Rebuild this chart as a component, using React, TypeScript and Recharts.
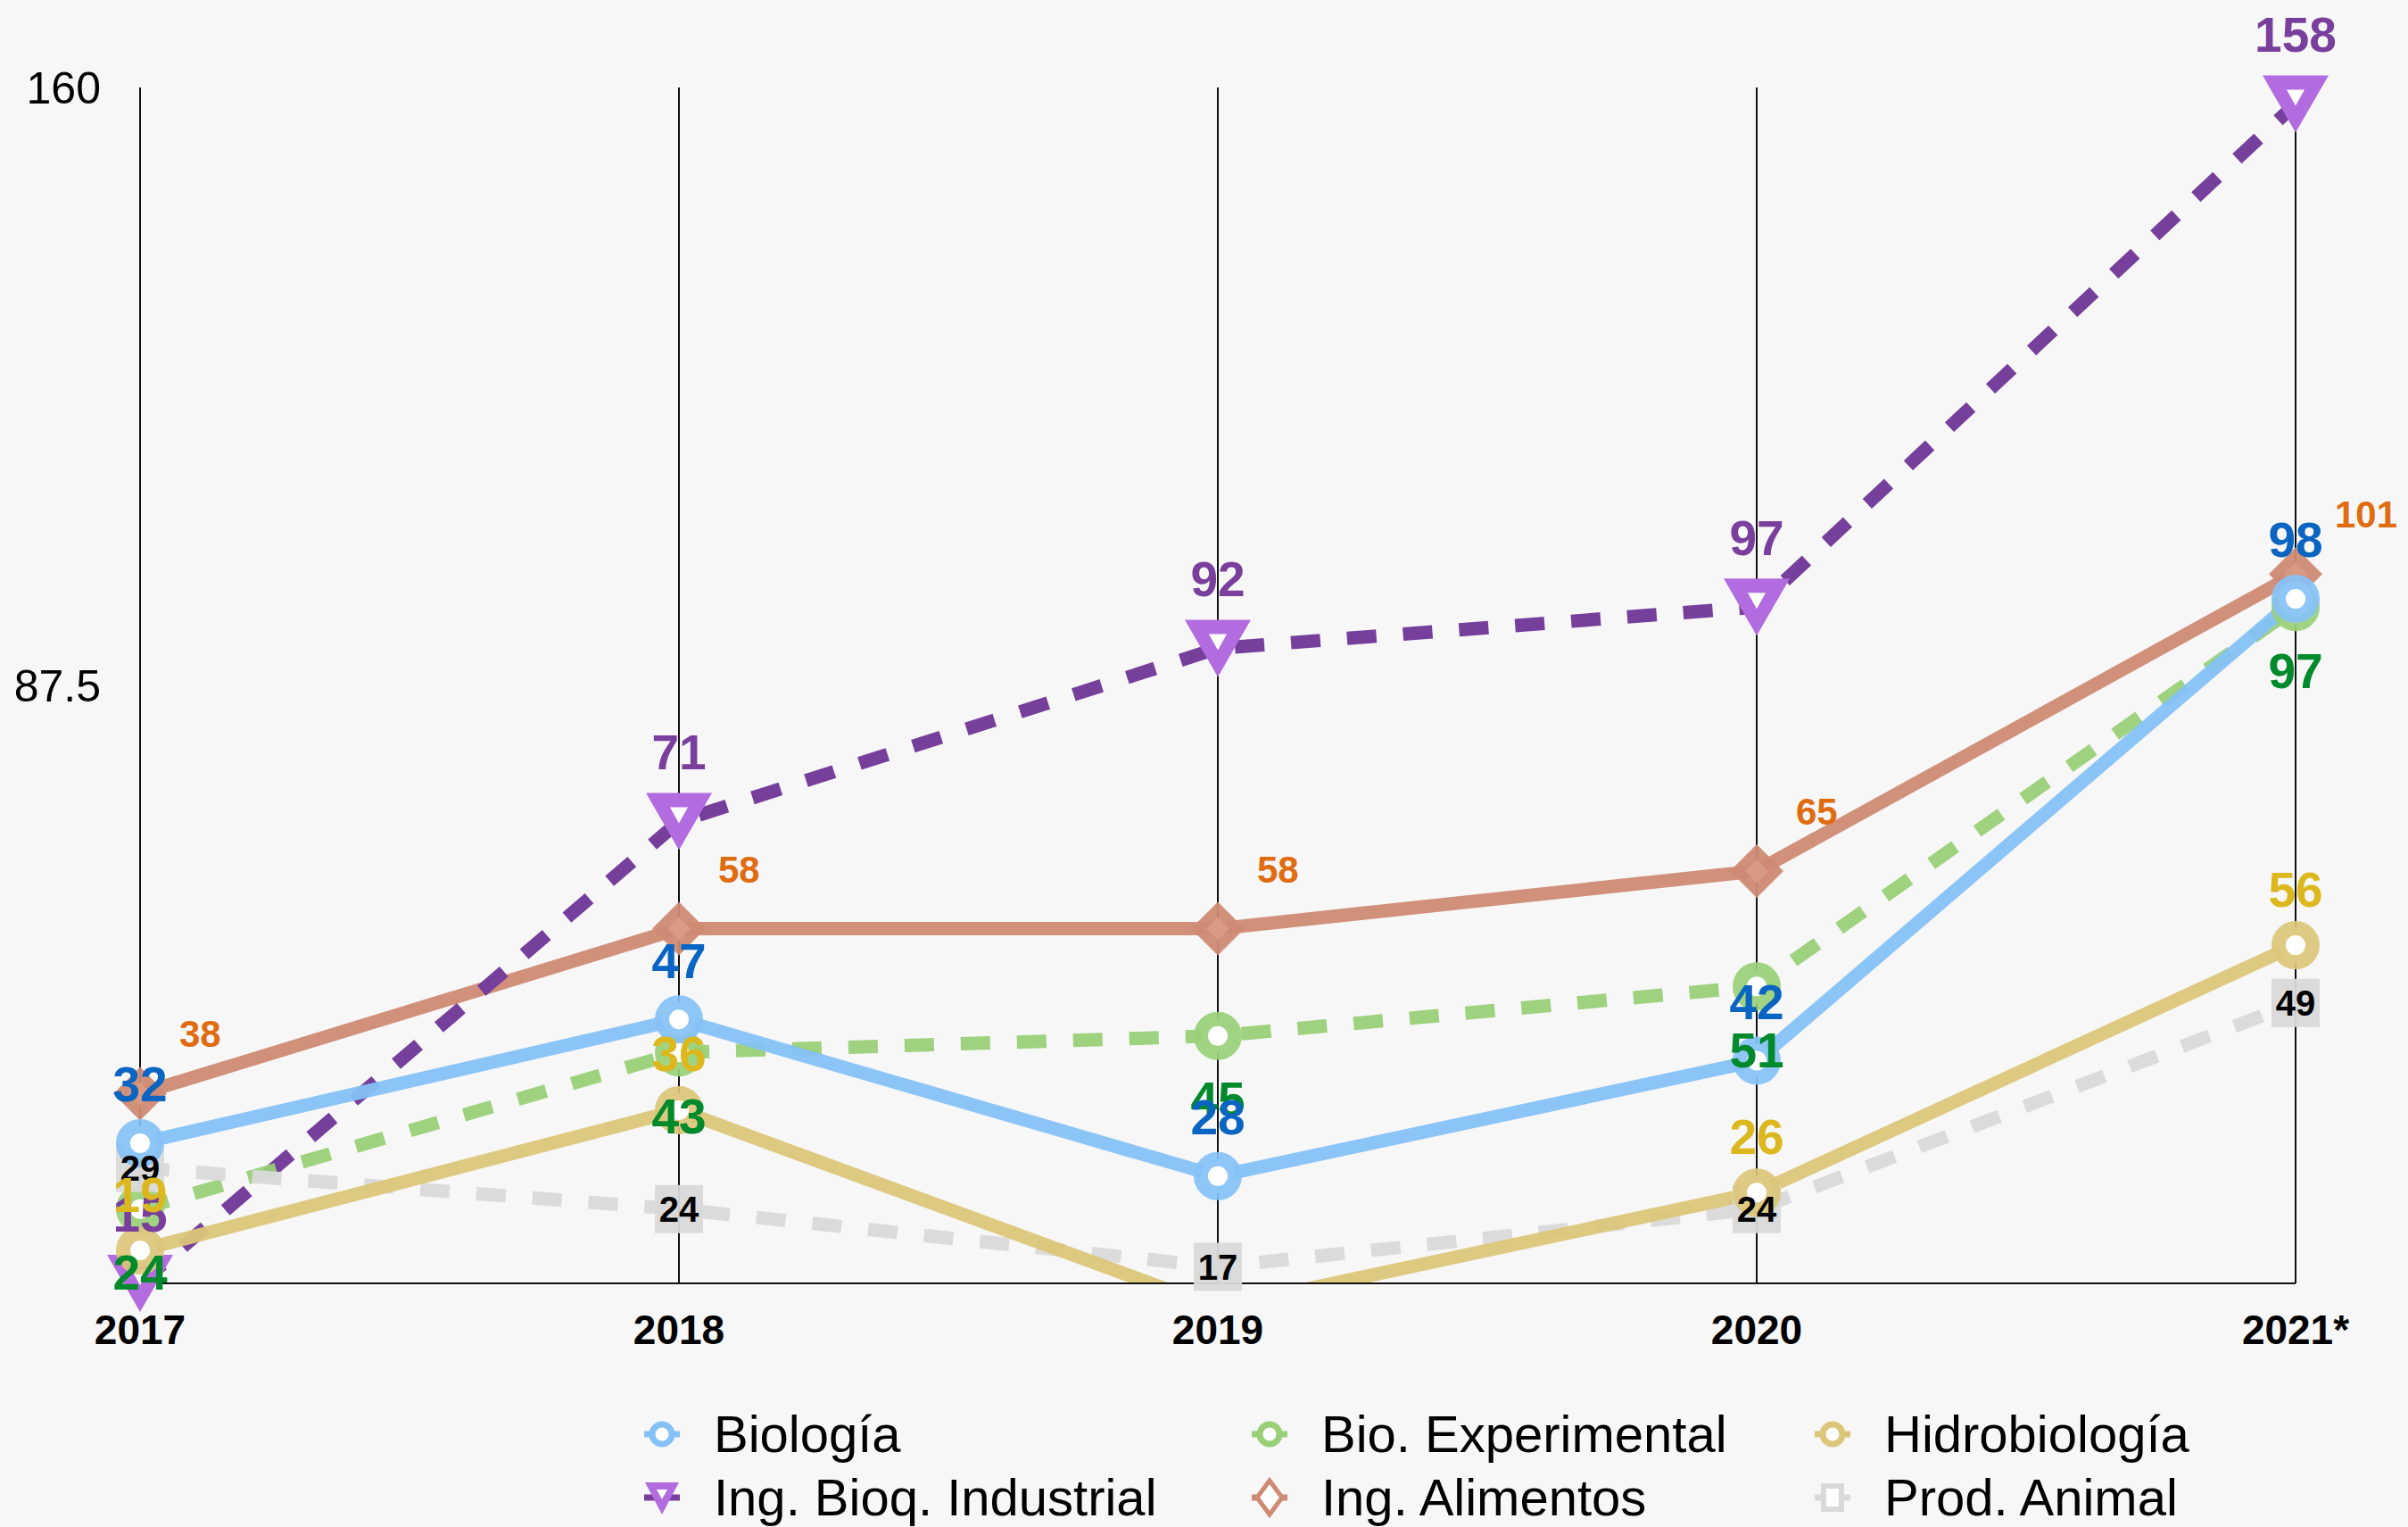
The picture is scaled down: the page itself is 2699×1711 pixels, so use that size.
import React from 'react';
import { LineChart, Line, XAxis, YAxis, CartesianGrid } from 'recharts';

// ---- data ----
const years = ['2017', '2018', '2019', '2020', '2021*'];
const biologia = [32, 47, 28, 42, 98];
const bioExperimental = [24, 43, 45, 51, 97];
const hidrobiologia = [19, 36, 12, 26, 56];
const ingBioqIndustrial = [15, 71, 92, 97, 158];
const ingAlimentos = [38, 58, 58, 65, 101];
const prodAnimal = [29, 24, 17, 24, 49];
const yTicks = [87.5, 160];
const yDomain: [number, number] = [15, 160];

const data = years.map((year, i) => ({
  year,
  biologia: biologia[i],
  bioExperimental: bioExperimental[i],
  hidrobiologia: hidrobiologia[i],
  ingBioqIndustrial: ingBioqIndustrial[i],
  ingAlimentos: ingAlimentos[i],
  prodAnimal: prodAnimal[i],
}));

// ---- styles ----
const FONT = '"Liberation Sans", Arial, Helvetica, sans-serif';
const Y_MIN = yDomain[0];

type Marker = 'ring' | 'triangle' | 'diamond' | 'square';
interface S {
  key: string;
  name: string;
  line: string;
  lineOpacity: number;
  markerColor: string;
  marker: Marker;
  dashed: boolean;
  labelColor: string;
  labelSize: number;
  labelDx: number;
  labelDy: number;
  anchor: 'start' | 'middle';
  axis: string | number;
}

const series: S[] = [
  { key: 'ingAlimentos', name: 'Ing. Alimentos', line: '#cf8a73', lineOpacity: 0.95, markerColor: '#cf8a73', marker: 'diamond', dashed: false, labelColor: '#e06c12', labelSize: 42, labelDx: 44, labelDy: -67, anchor: 'start', axis: 0 },
  { key: 'ingBioqIndustrial', name: 'Ing. Bioq. Industrial', line: '#763f9c', lineOpacity: 1, markerColor: '#b36be0', marker: 'triangle', dashed: true, labelColor: '#7a3f9d', labelSize: 55, labelDx: 0, labelDy: -78, anchor: 'middle', axis: 0 },
  { key: 'bioExperimental', name: 'Bio. Experimental', line: '#99d077', lineOpacity: 0.95, markerColor: '#99d077', marker: 'ring', dashed: true, labelColor: '#018a2c', labelSize: 55, labelDx: 0, labelDy: 71, anchor: 'middle', axis: 0 },
  { key: 'prodAnimal', name: 'Prod. Animal', line: '#d9d9d9', lineOpacity: 0.95, markerColor: '#d9d9d9', marker: 'square', dashed: true, labelColor: '#000000', labelSize: 40, labelDx: 0, labelDy: 0, anchor: 'middle', axis: 0 },
  { key: 'hidrobiologia', name: 'Hidrobiología', line: '#dcc679', lineOpacity: 0.95, markerColor: '#dcc679', marker: 'ring', dashed: false, labelColor: '#dcb81e', labelSize: 55, labelDx: 0, labelDy: -63, anchor: 'middle', axis: 'clip' },
  { key: 'biologia', name: 'Biología', line: '#85c1f7', lineOpacity: 0.95, markerColor: '#85c1f7', marker: 'ring', dashed: false, labelColor: '#0a64c2', labelSize: 55, labelDx: 0, labelDy: -66, anchor: 'middle', axis: 0 },
];

const legendOrder = ['biologia', 'bioExperimental', 'hidrobiologia', 'ingBioqIndustrial', 'ingAlimentos', 'prodAnimal'];

function markerShape(s: S, cx: number, cy: number, k: string) {
  const c = s.markerColor;
  switch (s.marker) {
    case 'ring':
      return <circle key={k} cx={cx} cy={cy} r={19} fill="#ffffff" stroke={c} strokeWidth={16} strokeOpacity={0.92} />;
    case 'triangle':
      return (
        <g key={k}>
          <polygon points={`${cx - 37},${cy - 32} ${cx + 37},${cy - 32} ${cx},${cy + 32}`} fill={c} />
          <polygon points={`${cx - 10},${cy - 16} ${cx + 10},${cy - 16} ${cx},${cy + 2}`} fill="#ffffff" />
        </g>
      );
    case 'diamond':
      return (
        <g key={k}>
          <polygon points={`${cx},${cy - 30} ${cx + 30},${cy} ${cx},${cy + 30} ${cx - 30},${cy}`} fill={c} fillOpacity={0.95} />
          <polygon points={`${cx},${cy - 13} ${cx + 13},${cy} ${cx},${cy + 13} ${cx - 13},${cy}`} fill="#d99a83" />
        </g>
      );
    case 'square':
    default:
      return <rect key={k} x={cx - 27} y={cy - 27} width={54} height={54} fill={c} fillOpacity={0.95} />;
  }
}

const makeMarker = (s: S) => (p: any) => {
  const k = `m-${s.key}-${p.index}`;
  if (p.value == null || p.value < Y_MIN || p.cx == null || p.cy == null) return <g key={k} />;
  return markerShape(s, p.cx, p.cy, k);
};

const makeLabel = (s: S) => (p: any) => {
  const k = `l-${s.key}-${p.index}`;
  if (p.value == null || p.value < Y_MIN || p.cx == null || p.cy == null) return <g key={k} />;
  return (
    <text
      key={k}
      x={p.cx + s.labelDx}
      y={p.cy + s.labelDy}
      dy="0.355em"
      textAnchor={s.anchor}
      fill={s.labelColor}
      fontSize={s.labelSize}
      fontWeight="bold"
      fontFamily={FONT}
    >
      {p.value}
    </text>
  );
};

function LegendIcon({ s }: { s: S }) {
  const cx = 23;
  const cy = 23;
  let shape: React.ReactNode = null;
  if (s.marker === 'ring') {
    shape = <circle cx={cx} cy={cy} r={11} fill="#ffffff" stroke={s.markerColor} strokeWidth={7} />;
  } else if (s.marker === 'triangle') {
    shape = (
      <g>
        <polygon points={`${cx - 19},${cy - 17} ${cx + 19},${cy - 17} ${cx},${cy + 19}`} fill={s.markerColor} />
        <polygon points={`${cx - 6},${cy - 9} ${cx + 6},${cy - 9} ${cx},${cy + 2}`} fill="#ffffff" />
      </g>
    );
  } else if (s.marker === 'diamond') {
    shape = <polygon points={`${cx},${cy - 19} ${cx + 14},${cy} ${cx},${cy + 19} ${cx - 14},${cy}`} fill="#ffffff" stroke={s.markerColor} strokeWidth={5} />;
  } else {
    shape = <rect x={cx - 10} y={cy - 13} width={20} height={26} fill="#ffffff" stroke={s.markerColor} strokeWidth={6} />;
  }
  return (
    <svg width={46} height={46} style={{ display: 'block', flex: '0 0 auto' }}>
      <line x1={3} y1={cy} x2={43} y2={cy} stroke={s.line} strokeWidth={7} />
      {shape}
    </svg>
  );
}

function ChartLegend() {
  const items = legendOrder.map((k) => series.find((s) => s.key === k)!);
  return (
    <div
      style={{
        position: 'absolute',
        left: 719,
        top: 1571,
        display: 'grid',
        gridTemplateColumns: '681px 631px auto',
        gridAutoRows: '71px',
        fontFamily: FONT,
      }}
    >
      {items.map((s) => (
        <div key={s.key} style={{ display: 'flex', alignItems: 'center', height: 71 }}>
          <LegendIcon s={s} />
          <span style={{ marginLeft: 35, fontSize: 58, lineHeight: '71px', color: '#000', whiteSpace: 'nowrap' }}>{s.name}</span>
        </div>
      ))}
    </div>
  );
}

export default function App() {
  return (
    <div style={{ position: 'absolute', left: 0, top: 0, width: 2699, height: 1711, background: '#f7f7f7', overflow: 'hidden' }}>
      <LineChart width={2699} height={1540} data={data} margin={{ top: 98, right: 126, bottom: 42, left: 0 }}>
        <CartesianGrid vertical horizontal={false} stroke="#111111" strokeWidth={2} />
        <XAxis
          dataKey="year"
          interval={0}
          tickLine={false}
          tickSize={0}
          tickMargin={35}
          height={60}
          axisLine={{ stroke: '#111111', strokeWidth: 2 }}
          tick={{ fill: '#000', fontSize: 46, fontWeight: 'bold', fontFamily: FONT }}
        />
        <YAxis
          type="number"
          domain={yDomain}
          ticks={yTicks}
          width={157}
          axisLine={false}
          tickLine={false}
          tickSize={0}
          tickMargin={44}
          tick={{ fill: '#000', fontSize: 50, fontFamily: FONT }}
        />
        <YAxis yAxisId="clip" type="number" domain={yDomain} allowDataOverflow hide />
        {series.map((s) => (
          <Line
            key={s.key}
            yAxisId={s.axis}
            dataKey={s.key}
            name={s.name}
            type="linear"
            stroke={s.line}
            strokeOpacity={s.lineOpacity}
            strokeWidth={15}
            strokeDasharray={s.dashed ? '33 30' : undefined}
            dot={makeMarker(s)}
            activeDot={false}
            isAnimationActive={false}
          />
        ))}
        {series.map((s) => (
          <Line
            key={`lbl-${s.key}`}
            yAxisId={s.axis}
            dataKey={s.key}
            legendType="none"
            stroke="none"
            strokeWidth={0}
            dot={makeLabel(s)}
            activeDot={false}
            isAnimationActive={false}
          />
        ))}
      </LineChart>
      <ChartLegend />
    </div>
  );
}
